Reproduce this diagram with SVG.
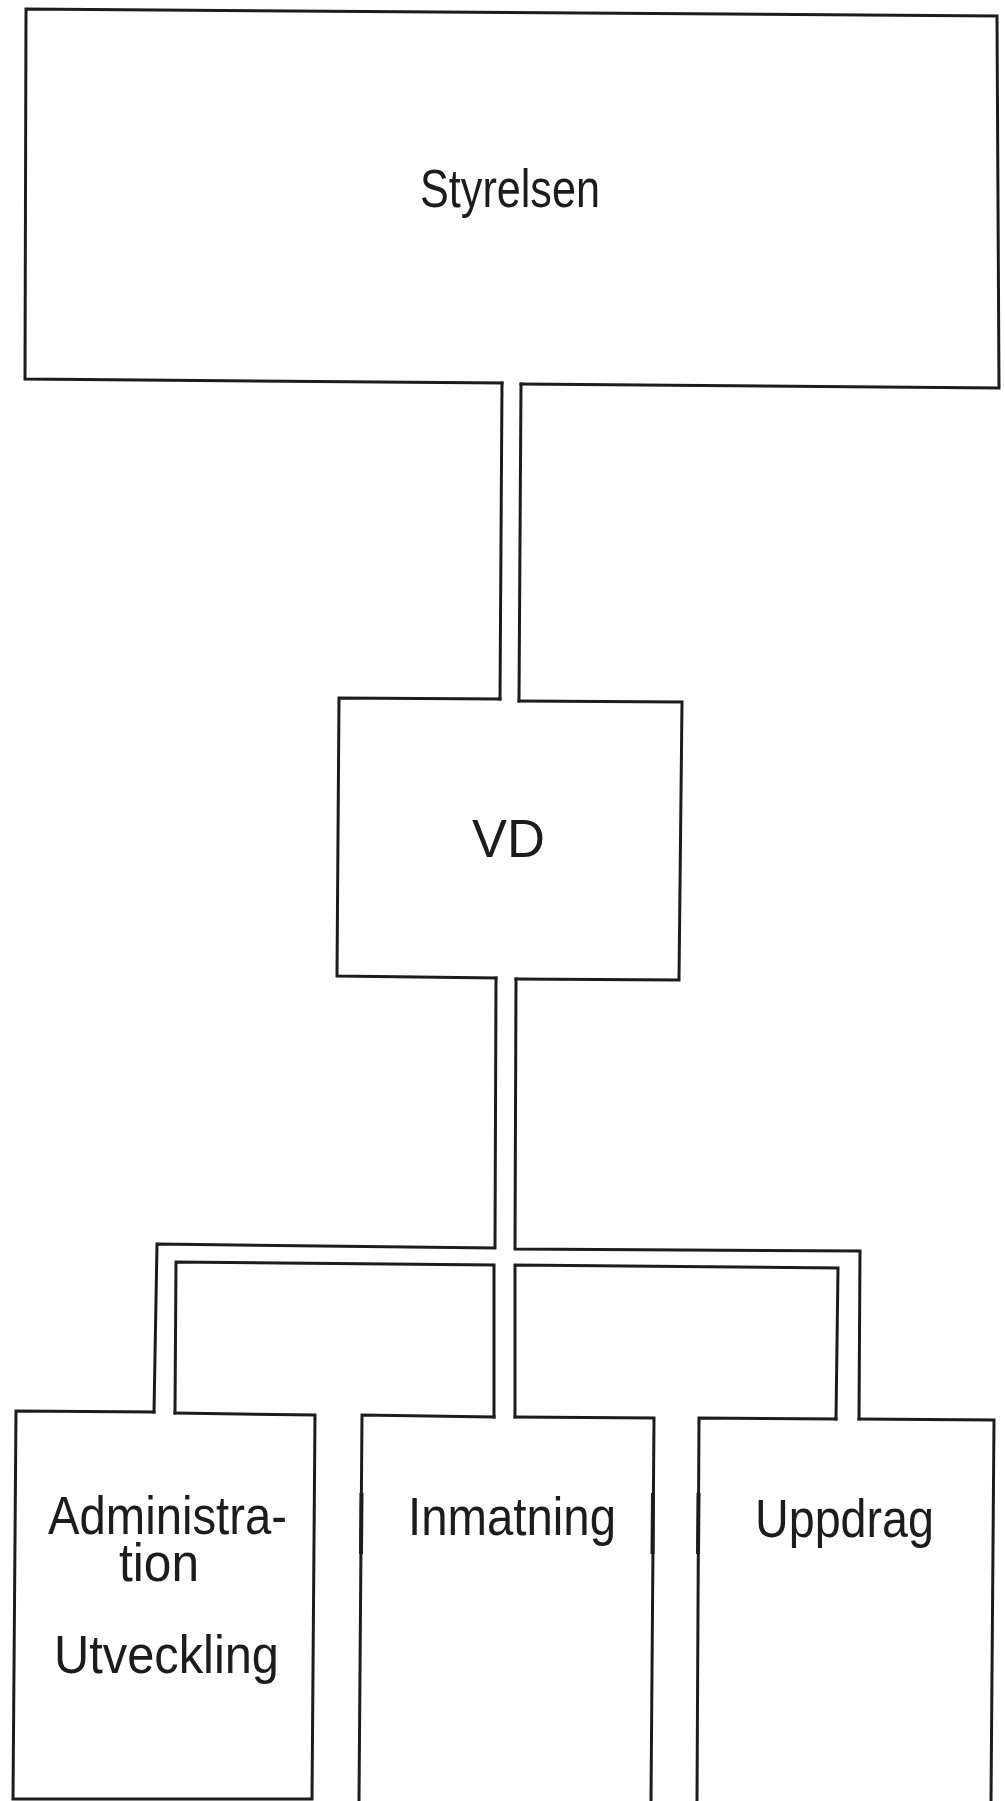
<svg xmlns="http://www.w3.org/2000/svg" width="1005" height="1801" viewBox="0 0 1005 1801">
<style>
.ln{fill:none;stroke:#1c1c1c;stroke-width:3;stroke-linejoin:miter;stroke-linecap:square}
.thk{fill:none;stroke:#1c1c1c;stroke-width:4}
.lbl{font-family:"Liberation Sans","Noto Sans",sans-serif;font-size:54px;fill:#1c1c1c}
</style>
<rect width="1005" height="1801" fill="#ffffff"/>
<g id="connectors">
<path class="ln" d="M502,383 L500,699"/>
<path class="ln" d="M521,384 L519,701"/>
<path class="ln" d="M496,978 L495,1248 L157,1244 L154,1412"/>
<path class="ln" d="M516,979 L515,1249 L860,1251 L859,1419"/>
<path class="ln" d="M494,1417 L494,1265 L176,1262 L175,1413"/>
<path class="ln" d="M515,1417 L515,1265 L838,1268 L836,1419"/>
</g>
<g id="styrelsen">
<path class="ln" d="M502,383 L25,379 L26,9 L997,16 L999,388 L521,384"/>
<text class="lbl" x="420" y="207" textLength="180" lengthAdjust="spacingAndGlyphs">Styrelsen</text>
</g>
<g id="vd">
<path class="ln" d="M500,699 L339,698 L337,976 L496,978"/>
<path class="ln" d="M519,701 L682,702 L679,980 L516,979"/>
<text class="lbl" x="472" y="857" textLength="73" lengthAdjust="spacingAndGlyphs">VD</text>
</g>
<g id="administration">
<path class="ln" d="M154,1412 L16,1411 L13,1799 L312,1799 L315,1415 L175,1413"/>
<text class="lbl"><tspan x="48" y="1534" textLength="239" lengthAdjust="spacingAndGlyphs">Administra-</tspan><tspan x="119" y="1581" textLength="80" lengthAdjust="spacingAndGlyphs">tion</tspan></text>
<text class="lbl" x="54" y="1673" textLength="225" lengthAdjust="spacingAndGlyphs">Utveckling</text>
</g>
<g id="inmatning">
<path class="ln" d="M494,1417 L362,1415 L359,1801"/>
<path class="ln" d="M515,1417 L654,1418 L651,1801"/>
<path class="thk" d="M361.5,1493 L361,1554 M653,1493 L652.5,1554"/>
<text class="lbl" x="408" y="1535" textLength="208" lengthAdjust="spacingAndGlyphs">Inmatning</text>
</g>
<g id="uppdrag">
<path class="ln" d="M836,1419 L699,1418 L697,1801"/>
<path class="ln" d="M859,1419 L994,1420 L991,1801"/>
<path class="thk" d="M698.5,1493 L698,1554"/>
<text class="lbl" x="755" y="1537" textLength="179" lengthAdjust="spacingAndGlyphs">Uppdrag</text>
</g>
</svg>
